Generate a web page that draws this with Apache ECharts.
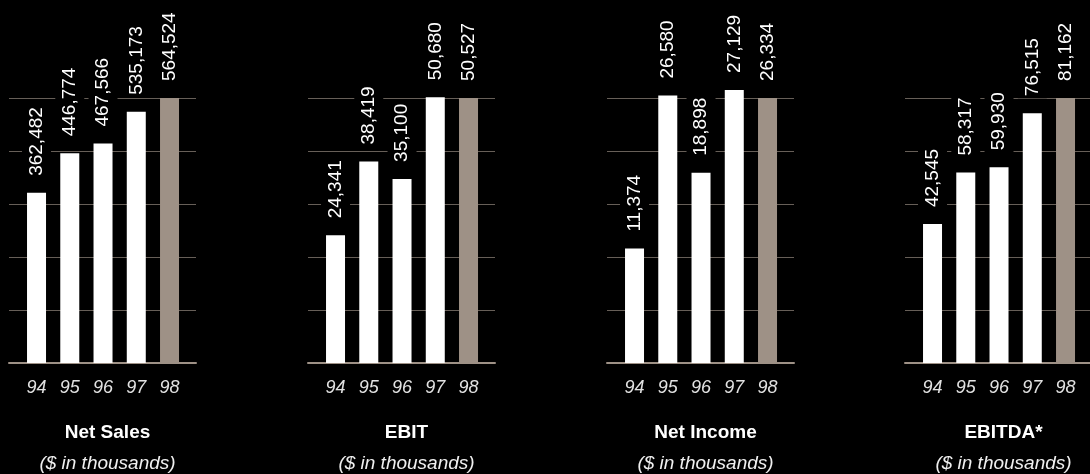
<!DOCTYPE html>
<html>
<head>
<meta charset="utf-8">
<style>
html,body{margin:0;padding:0;background:#000;}
#chart{width:1090px;height:474px;}
</style>
<script src="https://cdn.jsdelivr.net/npm/echarts@6/dist/echarts.min.js"></script>
</head>
<body>
<div id="chart"></div>
<script>
var years = ['94', '95', '96', '97', '98'];
var netSales = [362482, 446774, 467566, 535173, 564524];
var ebit = [24341, 38419, 35100, 50680, 50527];
var netIncome = [11374, 26580, 18898, 27129, 26334];
var ebitda = [42545, 58317, 59930, 76515, 81162];
var titles = ['Net Sales', 'EBIT', 'Net Income', 'EBITDA*'];
var subtitle = '($ in thousands)';
var panels = [netSales, ebit, netIncome, ebitda];

var panelLeft = [9, 308, 607, 905];
var gridTop = 98, gridH = 265, panelW = 187;
var FONT = '"Liberation Sans", Arial, sans-serif';

var grid = [], xAxis = [], yAxis = [], series = [], title = [];
panels.forEach(function (vals, i) {
  var x0 = panelLeft[i];
  var maxV = vals[vals.length - 1];
  grid.push({left: x0, top: gridTop, width: panelW, height: gridH});
  grid.push({left: x0 + 10.9, top: gridTop, width: 166.25, height: gridH});
  var gA = i * 2, gB = i * 2 + 1;
  xAxis.push({
    gridIndex: gA, type: 'value', min: 0, max: 1, z: 5,
    axisLine: {show: true, lineStyle: {color: '#9e9186', width: 2}},
    axisTick: {show: false}, axisLabel: {show: false}, splitLine: {show: false}
  });
  yAxis.push({
    gridIndex: gA, type: 'value', min: 0, max: 5, interval: 1,
    axisLine: {show: false}, axisTick: {show: false}, axisLabel: {show: false},
    splitLine: {show: true, lineStyle: {color: '#675f58', width: 1}}
  });
  xAxis.push({
    gridIndex: gB, type: 'category', data: years,
    axisLine: {show: false}, axisTick: {show: false},
    axisLabel: {color: '#e2e2e2', fontStyle: 'italic', fontFamily: FONT, fontSize: 18, margin: 16}
  });
  yAxis.push({
    gridIndex: gB, type: 'value', min: 0, max: maxV, show: false,
    splitLine: {show: false}
  });
  series.push({
    type: 'bar', xAxisIndex: gB, yAxisIndex: gB, barWidth: 19, clip: false, z: 10,
    data: vals.map(function (v, j) {
      return {value: v, itemStyle: {color: j === vals.length - 1 ? '#9e9186' : '#ffffff'}};
    }),
    label: {
      show: true, position: 'top', distance: 15, rotate: 90,
      align: 'left', verticalAlign: 'middle',
      color: '#ffffff', fontFamily: FONT, fontSize: 19,
      backgroundColor: '#000000', padding: [5, 2, 5, 2],
      formatter: function (p) { return p.value.toLocaleString('en-US'); }
    }
  });
  title.push({
    text: titles[i], subtext: subtitle,
    left: x0 + panelW / 2, top: 418, textAlign: 'center', itemGap: 12,
    textStyle: {color: '#ffffff', fontFamily: FONT, fontSize: 19, fontWeight: 'bold'},
    subtextStyle: {color: '#f0f0f0', fontFamily: FONT, fontSize: 19, fontStyle: 'italic'}
  });
});

var chart = echarts.init(document.getElementById('chart'));
chart.setOption({
  backgroundColor: '#000000',
  animation: false,
  title: title,
  grid: grid,
  xAxis: xAxis,
  yAxis: yAxis,
  series: series
});
</script>
</body>
</html>
